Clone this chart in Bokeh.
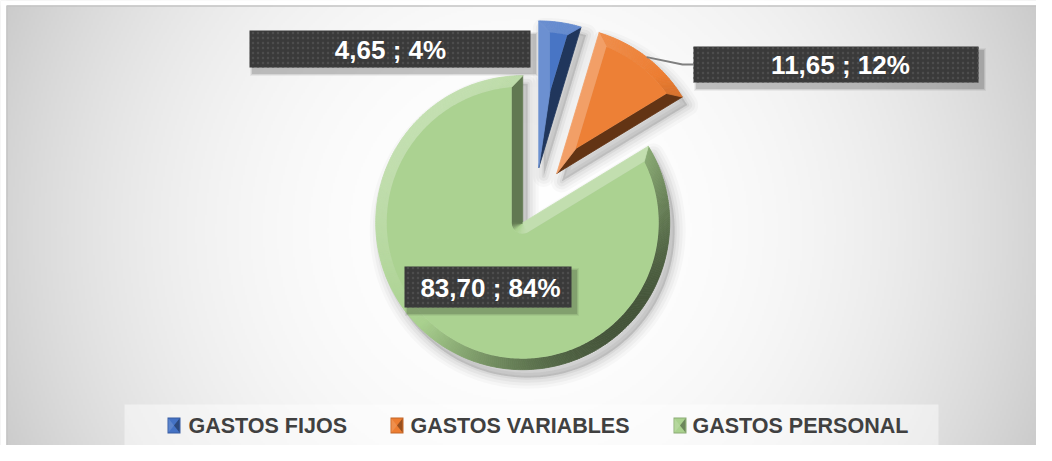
import numpy as np
from bokeh.plotting import figure
from bokeh.models import Range1d
from bokeh.core.properties import value
from bokeh.embed import file_html
from bokeh.resources import INLINE

# ---------------- data ----------------
categories = ["GASTOS FIJOS", "GASTOS VARIABLES", "GASTOS PERSONAL"]
values = [4.65, 11.65, 83.70]
value_labels = ["4,65", "11,65", "83,70"]
percent_labels = ["4%", "12%", "84%"]
colors = ["#4472C4", "#ED7D31", "#A9D18E"]

# ---------------- layout / style ----------------
W, H = 1036, 445
X0, X1 = 0, 1036          # data x == reference pixel x
Y0, Y1 = 16, 461          # data y == 461 - reference pixel y
CX, CY = 533, 258         # pie centre
R = 147                   # pie radius
explode = [36, 38, 22]
BEVEL = 11
label_boxes = [(249, 530, 394, 431), (693, 978, 379, 415), (404, 571, 154, 195)]
label_text_pos = [(390, 412), (840, 397), (490, 174)]

p = figure(width=W, height=H, x_range=Range1d(X0, X1), y_range=Range1d(Y0, Y1),
           output_backend="svg", toolbar_location=None, min_border=0,
           x_axis_type=None, y_axis_type=None)
p.grid.visible = False
p.outline_line_color = None
p.background_fill_color = "white"
p.border_fill_color = "white"

# radial gradient background
nx, ny = 518, 223
gx = np.linspace(X0, X1, nx)
gy = np.linspace(Y0, Y1, ny)
XX, YY = np.meshgrid(gx, gy)
ref_y = 461 - YY
dist = np.sqrt((XX - 520) ** 2 + (ref_y - 230) ** 2)
c = np.clip(255 - 41 * (dist / 510) ** 2.4, 190, 255).astype(np.uint8)
img = np.empty((ny, nx), dtype=np.uint32)
view = img.view(dtype=np.uint8).reshape((ny, nx, 4))
view[:, :, 0] = c
view[:, :, 1] = c
view[:, :, 2] = c
view[:, :, 3] = 255
p.image_rgba(image=[img], x=X0, y=Y0, dw=X1 - X0, dh=Y1 - Y0)

# white page margin and chart-area border (top / left)
p.quad(left=0, right=6, bottom=Y0, top=Y1, fill_color="white", line_color=None)
p.quad(left=0, right=X1, bottom=456, top=Y1, fill_color="white", line_color=None)
p.line(x=[6.5, 6.5, X1], y=[Y0, 455.5, 455.5], line_color="#c4c4c4", line_width=1.5)


def hex2rgb(h):
    h = h.lstrip("#")
    return np.array([int(h[i:i + 2], 16) for i in (0, 2, 4)], dtype=float)


def rgb2hex(a):
    a = np.clip(np.round(a), 0, 255).astype(int)
    return "#%02x%02x%02x" % tuple(a)


def shade(hexc, s):
    rgb = hex2rgb(hexc)
    if s > 0:
        rgb = rgb + (255 - rgb) * 0.3 * s
    else:
        rgb = rgb * (1 + 0.6 * s)
    return rgb2hex(rgb)


def arc(cx, cy, r, a0, a1, n):
    t = np.linspace(a0, a1, n)
    return list(cx + r * np.cos(t)), list(cy + r * np.sin(t))


total = sum(values)
slices = []
start = 0.0
for i, v in enumerate(values):
    span = v / total * 360.0
    t0 = np.radians(90 - (start + span))
    t1 = np.radians(90 - start)
    mid = (t0 + t1) / 2
    cx = CX + explode[i] * np.cos(mid)
    cy = CY + explode[i] * np.sin(mid)
    slices.append((cx, cy, t0, t1, mid))
    start += span

# shadows
shadow_xs, shadow_ys = [], []
for (cx, cy, t0, t1, mid) in slices:
    ax, ay = arc(cx, cy, R, t0, t1, 120)
    shadow_xs.append([cx + 5] + [x + 5 for x in ax])
    shadow_ys.append([cy - 8] + [y - 8 for y in ay])
for lw, al in [(22, 0.025), (16, 0.03), (10, 0.04), (4, 0.05)]:
    p.patches(xs=shadow_xs, ys=shadow_ys, fill_color="black", fill_alpha=0.03,
              line_color="black", line_alpha=al, line_width=lw, line_join="round")

# bevelled slices
light = np.array([-0.7071, 0.7071])
for i, (cx, cy, t0, t1, mid) in enumerate(slices):
    base = colors[i]
    h = (t1 - t0) / 2
    n = max(int(np.degrees(t1 - t0) * 1.2), 16)
    ox, oy = arc(cx, cy, R, t0, t1, n)
    dlt = np.arcsin(BEVEL / (R - BEVEL))
    ix, iy = arc(cx, cy, R - BEVEL, t0 + dlt, t1 - dlt, n)
    if h < np.pi / 2:
        vx = [cx]
        vy = [cy]
        wx = [cx + BEVEL / np.sin(h) * np.cos(mid)]
        wy = [cy + BEVEL / np.sin(h) * np.sin(mid)]
    else:
        m = 16
        vx = [cx] * m
        vy = [cy] * m
        wx, wy = arc(cx, cy, BEVEL, t1 - np.pi / 2, t0 + np.pi / 2, m)
    outer_x = vx + ox
    outer_y = vy + oy
    inner_x = wx + ix
    inner_y = wy + iy
    L = len(outer_x)
    qx, qy, qc = [], [], []
    for a in range(L):
        b = (a + 1) % L
        dx = inner_x[b] - inner_x[a]
        dy = inner_y[b] - inner_y[a]
        ln = np.hypot(dx, dy)
        if ln < 1e-6:
            dx = outer_x[b] - outer_x[a]
            dy = outer_y[b] - outer_y[a]
            ln = np.hypot(dx, dy)
        nvec = np.array([dy, -dx]) / ln
        s = float(nvec @ light)
        qx.append([outer_x[a], outer_x[b], inner_x[b], inner_x[a]])
        qy.append([outer_y[a], outer_y[b], inner_y[b], inner_y[a]])
        qc.append(shade(base, s))
    p.patches(xs=qx, ys=qy, fill_color=qc, line_color=qc, line_width=0.8)
    p.patch(x=inner_x, y=inner_y, fill_color=shade(base, 0.08), line_color=None)

# leader line for the orange slice
ocx, ocy, _, _, omid = slices[1]
lx0 = ocx + R * np.cos(omid)
ly0 = ocy + R * np.sin(omid)
bx0, bx1, by0, by1 = label_boxes[1]
p.line(x=[lx0, bx0 - 11, bx0], y=[ly0, (by0 + by1) / 2, (by0 + by1) / 2],
       line_color="#7f7f7f", line_width=2)

# data labels
for i in range(len(values)):
    l, r, b, t = label_boxes[i]
    for k, al in [(7, 0.05), (5, 0.08), (3, 0.12)]:
        p.quad(left=l + 4 - k / 2, right=r + 4 + k / 2, bottom=b - 5 - k / 2, top=t - 5 + k / 2,
               fill_color="black", fill_alpha=al, line_color=None)
    p.quad(left=l, right=r, bottom=b, top=t, fill_color="#3a3a3a", line_color=None,
           hatch_pattern="dot", hatch_color="#4d4d4d", hatch_scale=5, hatch_weight=1.2)
    tx, ty = label_text_pos[i]
    p.text(x=[tx], y=[ty], text=[f"{value_labels[i]} ; {percent_labels[i]}"],
           text_color="white", text_font=value("Liberation Sans"), text_font_style="bold",
           text_font_size="26px", text_align="center", text_baseline="middle")

# legend
p.quad(left=124, right=938, bottom=14, top=57, fill_color="white", fill_alpha=0.45, line_color=None)
legend_marker_x = [167, 390, 673]
legend_text_x = [188, 410, 692]
for i, cat in enumerate(categories):
    mx = legend_marker_x[i]
    p.quad(left=mx, right=mx + 13, bottom=28, top=44, fill_color=shade(colors[i], -0.3),
           line_color=None)
    p.quad(left=mx + 1, right=mx + 12, bottom=29, top=43, fill_color=colors[i],
           line_color=None)
    p.patch(x=[mx + 1, mx + 6.5, mx + 1], y=[29, 36, 43], fill_color=shade(colors[i], 0.45),
            line_color=None)
    p.patch(x=[mx + 12, mx + 6.5, mx + 12], y=[29, 36, 43], fill_color=shade(colors[i], -0.6),
            line_color=None)
    p.text(x=[legend_text_x[i]], y=[36], text=[cat], text_color="#404040",
           text_font=value("Liberation Sans"), text_font_style="bold",
           text_font_size="21.5px", text_align="left", text_baseline="middle")

open("out.html", "w").write(file_html(p, INLINE))
